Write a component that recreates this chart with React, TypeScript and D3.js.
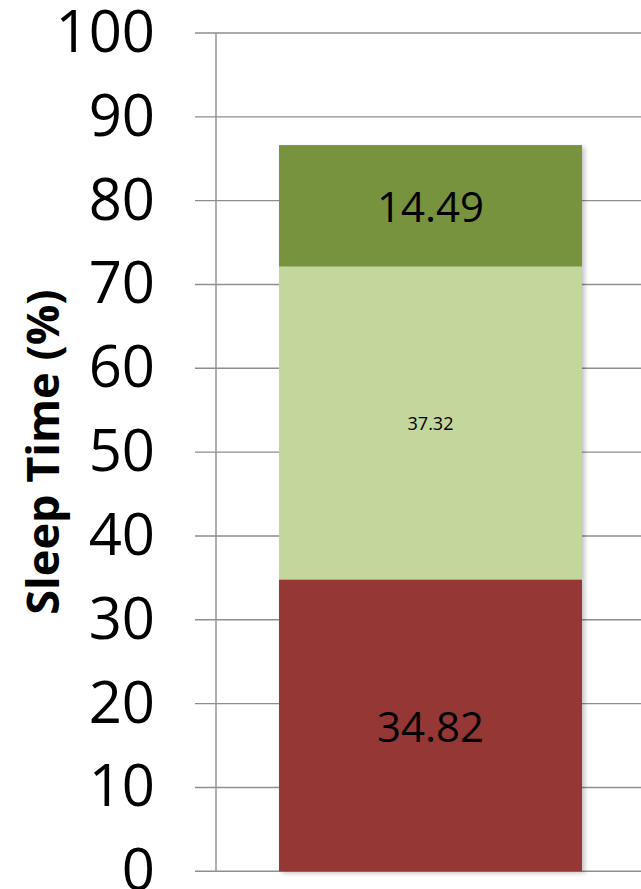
import React from "react";
import * as d3 from "d3";

const categories = ["Sleep"];
const seriesNames = ["Deep", "Light", "REM"];
const seriesValues = [34.82, 37.32, 14.49];
const seriesColors = ["#953735", "#C3D69B", "#77933C"];
const labelSizes = [42, 18, 42];
const yTicks = [0, 10, 20, 30, 40, 50, 60, 70, 80, 90, 100];
const yTitle = "Sleep Time (%)";

const W = 641;
const H = 889;
const plotLeft = 216;
const plotTop = 33;
const plotBottom = 871.3;

export default function App() {
  const y = d3.scaleLinear().domain([0, 100]).range([plotBottom, plotTop]);
  const x = d3
    .scaleBand()
    .domain(categories)
    .range([plotLeft, plotLeft + 429])
    .paddingInner(0)
    .paddingOuter(0.208);
  const stackData = [Object.fromEntries(seriesNames.map((n, i) => [n, seriesValues[i]]))];
  const stack = d3.stack<any>().keys(seriesNames)(stackData as any);
  const fontNum = "'Open Sans', 'Liberation Sans', sans-serif";
  return (
    <svg
      width={W}
      height={H}
      style={{ position: "absolute", left: 0, top: 0, background: "#fff" }}
    >
      <defs>
        <filter id="shadow" x="-10%" y="-10%" width="130%" height="130%">
          <feDropShadow dx="3" dy="2" stdDeviation="2" floodColor="#000" floodOpacity="0.22" />
        </filter>
      </defs>
      {yTicks.map((t) => (
        <g key={t}>
          <line
            x1={195}
            x2={W}
            y1={y(t)}
            y2={y(t)}
            stroke="#8E8E8E"
            strokeWidth={1.4}
          />
          <text
            x={155}
            y={y(t) + 19}
            textAnchor="end"
            fontFamily={fontNum}
            fontSize={58}
            fill="#000"
          >
            {t}
          </text>
        </g>
      ))}
      <line x1={plotLeft} x2={plotLeft} y1={plotTop} y2={plotBottom} stroke="#8E8E8E" strokeWidth={1.4} />
      <g filter="url(#shadow)">
        {stack.map((s, i) => (
          <rect
            key={s.key}
            x={x(categories[0])!}
            width={x.bandwidth()}
            y={y(s[0][1])}
            height={y(s[0][0]) - y(s[0][1])}
            fill={seriesColors[i]}
          />
        ))}
      </g>
      {stack.map((s, i) => (
        <text
          key={"l" + s.key}
          x={x(categories[0])! + x.bandwidth() / 2}
          y={(y(s[0][1]) + y(s[0][0])) / 2}
          textAnchor="middle"
          dominantBaseline="central"
          fontFamily={fontNum}
          fontSize={labelSizes[i]}
          fill="#000"
        >
          {seriesValues[i].toFixed(2)}
        </text>
      ))}
      <text
        transform={`translate(59, ${(plotTop + plotBottom) / 2}) rotate(-90)`}
        textAnchor="middle"
        fontFamily={fontNum}
        fontWeight="bold"
        fontSize={45}
        fill="#000"
      >
        {yTitle}
      </text>
    </svg>
  );
}
